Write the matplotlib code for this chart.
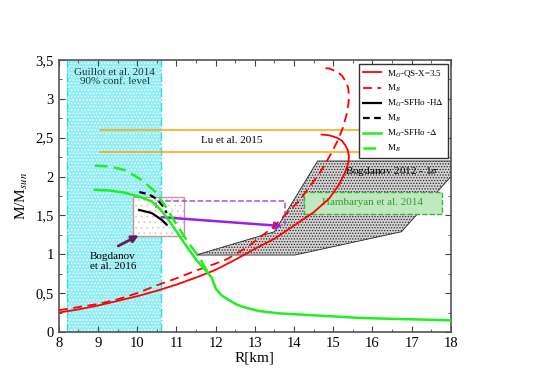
import matplotlib
matplotlib.use('Agg')
import matplotlib.pyplot as plt
from matplotlib.patches import Polygon, Rectangle

plt.rcParams['font.family'] = ['Liberation Serif', 'DejaVu Serif']
plt.rcParams['mathtext.fontset'] = 'stix'
plt.rcParams['hatch.linewidth'] = 0.6

# M_G QS X=3.5 (red solid)
r_qs = [8.0, 8.5, 9.0, 9.5, 10.0, 10.5, 11.0, 11.5, 12.0, 12.5, 13.0, 13.5, 14.0,
        14.5, 14.9, 15.15, 15.3, 15.38, 15.4, 15.37, 15.31, 15.22, 15.09, 14.9, 14.7]
m_qs = [0.25, 0.29, 0.34, 0.40, 0.46, 0.53, 0.61, 0.70, 0.80, 0.93, 1.07, 1.20, 1.37,
        1.54, 1.72, 1.90, 2.05, 2.17, 2.26, 2.34, 2.40, 2.46, 2.50, 2.53, 2.54]
# M_B QS (red dashed)
r_qs_b = [8.0, 8.5, 9.0, 9.5, 10.0, 10.5, 11.0, 11.5, 12.0, 12.3, 12.8, 13.47, 14.15,
          14.66, 14.95, 15.1, 15.24, 15.34, 15.39, 15.4, 15.38, 15.32, 15.22, 15.09, 14.9, 14.7]
m_qs_b = [0.28, 0.32, 0.36, 0.42, 0.50, 0.60, 0.69, 0.79, 0.88, 0.94, 1.09, 1.35, 1.70,
          2.05, 2.30, 2.45, 2.62, 2.80, 2.95, 3.05, 3.14, 3.22, 3.30, 3.35, 3.39, 3.40]
# SFHo-H Delta (black)
r_hd = [10.05, 10.37, 10.63, 10.75]
m_hd = [1.57, 1.53, 1.44, 1.38]
r_hd_b = [10.05, 10.3, 10.5, 10.65, 10.75]
m_hd_b = [1.80, 1.77, 1.71, 1.62, 1.53]
# SFHo-Delta (green)
r_d = [8.92, 9.3, 9.7, 10.05, 10.37, 10.6, 10.8, 11.15, 11.5, 11.78, 11.9, 12.0, 12.15,
       12.34, 12.55, 12.78, 13.1, 13.6, 14.3, 15.0, 15.7, 16.4, 17.2, 18.0]
m_d = [1.83, 1.82, 1.79, 1.74, 1.68, 1.57, 1.44, 1.18, 0.93, 0.77, 0.70, 0.56, 0.47,
       0.41, 0.35, 0.31, 0.27, 0.24, 0.22, 0.20, 0.18, 0.17, 0.16, 0.15]
r_d_b = [8.92, 9.3, 9.7, 10.1, 10.47, 10.73, 10.98, 11.3, 11.57, 11.8]
m_d_b = [2.14, 2.13, 2.08, 1.96, 1.80, 1.61, 1.40, 1.15, 0.97, 0.77]

# observational constraints
bog12_r = [11.5, 13.5, 14.6, 18.0, 18.0, 16.74, 14.02]
bog12_m = [0.99, 1.29, 2.2, 2.2, 2.0, 1.29, 0.99]
lu_m = [2.6, 2.31]
guillot_r = [8.2, 10.6]

fig = plt.figure(figsize=(5.4, 3.82), dpi=100)
ax = fig.add_axes([0.109, 0.131, 0.726, 0.712])

# Guillot band
ax.axvspan(guillot_r[0], guillot_r[1], facecolor='#90eef4', edgecolor='none', zorder=0)
ax.axvspan(guillot_r[0], guillot_r[1], facecolor='none', edgecolor='white', hatch='.....', lw=0, zorder=0.5)
for g in guillot_r:
    ax.axvline(g, color='#33dddd', ls='-.', lw=1, zorder=1)
ax.text(9.43, 3.28, 'Guillot et al. 2014\n90% conf. level', ha='center', va='center',
        fontsize=8, color='#1a3a3a', linespacing=1.1)

# Lu et al
for m in lu_m:
    ax.plot([9.05, 15.7], [m, m], color='#ffa500', lw=1.1, zorder=2)
ax.text(12.4, 2.46, 'Lu et al. 2015', ha='center', va='center', fontsize=8)

# Bogdanov 2012
pts = list(zip(bog12_r, bog12_m))
ax.add_patch(Polygon(pts, closed=True, facecolor='#d4d4d4', edgecolor='none', zorder=2))
ax.add_patch(Polygon(pts, closed=True, facecolor='none', edgecolor='#222222', hatch='......', lw=0.6, zorder=2.1))
ax.text(16.5, 2.07, 'Bogdanov 2012 - 1$\\sigma$', ha='center', va='center', fontsize=8, zorder=3)

# Hambaryan
ax.add_patch(Rectangle((14.25, 1.52), 3.52, 0.28, facecolor='#bfe8bf', edgecolor='#3cb043',
                       ls='--', lw=1, zorder=3))
ax.text(16.0, 1.66, 'Hambaryan et al. 2014', ha='center', va='center', fontsize=8,
        color='#2e9e2e', zorder=3.5)

# Bogdanov 2016 box
ax.add_patch(Rectangle((9.89, 1.24), 1.3, 0.50, facecolor='white', edgecolor='none', zorder=2))
ax.add_patch(Rectangle((9.89, 1.24), 1.3, 0.50, facecolor='none', edgecolor='#e0c8c8',
                       hatch='...', lw=0, zorder=2.1))
ax.add_patch(Rectangle((9.89, 1.24), 1.3, 0.50, facecolor='none', edgecolor='#c09898',
                       lw=1, zorder=2.2))
ax.text(9.38, 0.91, 'Bogdanov\net al. 2016', ha='center', va='center', fontsize=8, linespacing=1.1)
ax.annotate('', xy=(10.1, 1.26), xytext=(9.45, 1.09),
            arrowprops=dict(arrowstyle='-|>', color='#6b1a5a', lw=2, mutation_scale=10), zorder=5)

# purple shift
ax.plot([10.47, 10.47, 13.77, 13.77], [1.60, 1.69, 1.69, 1.38], color='#a64ded', ls='--', lw=1.1, zorder=4)
ax.annotate('', xy=(13.77, 1.36), xytext=(10.55, 1.48),
            arrowprops=dict(arrowstyle='-|>', color='#9b1fe8', lw=1.8, mutation_scale=10), zorder=5)

# EOS curves
ax.plot(r_qs, m_qs, color='red', lw=1.3, label='M$_G$-QS-X=3.5', zorder=6)
ax.plot(r_qs_b, m_qs_b, color='red', lw=1.3, ls=(0, (5, 3)), label='M$_B$', zorder=6)
ax.plot(r_hd, m_hd, color='black', lw=1.6, label='M$_G$-SFHo -H$\\Delta$', zorder=6)
ax.plot(r_hd_b, m_hd_b, color='black', lw=1.6, ls=(0, (3, 2)), label='M$_B$', zorder=6)
ax.plot(r_d, m_d, color='#22ee22', lw=1.8, label='M$_G$-SFHo -$\\Delta$', zorder=6)
ax.plot(r_d_b, m_d_b, color='#22ee22', lw=1.8, ls=(0, (5, 2.5)), label='M$_B$', zorder=6)

ax.set_xlim(8, 18)
ax.set_ylim(0, 3.5)
ax.set_xticks(range(8, 19))
ax.set_xticks([x + 0.5 for x in range(8, 18)], minor=True)
ax.set_yticks([0, 0.5, 1, 1.5, 2, 2.5, 3, 3.5])
ax.set_yticklabels(['0', '0,5', '1', '1,5', '2', '2,5', '3', '3,5'])
ax.set_yticks([0.25 + 0.5 * i for i in range(7)], minor=True)
ax.tick_params(which='both', direction='in', top=True, right=True, labelsize=10.5, color='#444444')
ax.tick_params(which='major', length=4)
ax.tick_params(which='minor', length=2)
for s in ax.spines.values():
    s.set_color('#555555')
    s.set_linewidth(1.2)
ax.set_xlabel('R[km]', fontsize=11, labelpad=1)
ax.set_ylabel('M/M$_{sun}$', fontsize=11)

leg = ax.legend(loc='upper right', bbox_to_anchor=(0.992, 0.985), fontsize=6.5, fancybox=False,
                handlelength=2.0, handletextpad=0.6, borderpad=0.45, labelspacing=0.42,
                borderaxespad=0, framealpha=1)
leg.get_frame().set_edgecolor('#333333')
leg.get_frame().set_linewidth(1)
leg.set_zorder(10)

fig.savefig('out.png', dpi=100)
